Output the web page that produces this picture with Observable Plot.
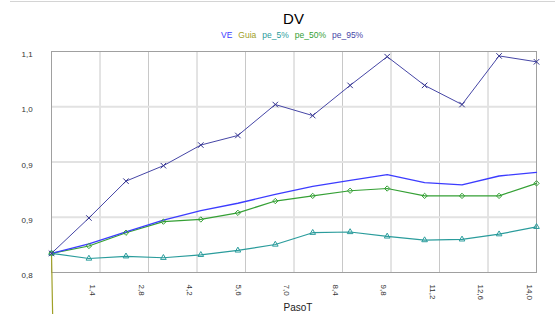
<!DOCTYPE html>
<html>
<head>
<meta charset="utf-8">
<script src="https://cdn.jsdelivr.net/npm/d3@7"></script>
<script src="https://cdn.jsdelivr.net/npm/@observablehq/plot@0.6"></script>
<style>
  html, body { margin: 0; padding: 0; background: white; }
  body { width: 555px; height: 314px; overflow: hidden; font-family: "Liberation Sans", Arial, sans-serif; }
  #hdr { position: relative; height: 44px; }
  #topline { position: absolute; left: 10px; right: 0; top: 1px; height: 1px; background: #d4d4d4; }
  #title { position: absolute; left: 0; width: 587px; top: 11px; line-height: 15px; font-size: 15px; text-align: center; color: #000; }
  #legend { position: absolute; left: 221px; top: 30px; line-height: 10px; font-size: 8.5px; display: flex; gap: 6px; white-space: nowrap; }
</style>
</head>
<body>
<div id="hdr">
  <div id="topline"></div>
  <div id="title">DV</div>
  <div id="legend"></div>
</div>
<div id="chart"></div>
<script>
// ---- data ----
const pasoT = [0, 1.08, 2.15, 3.23, 4.31, 5.38, 6.46, 7.54, 8.62, 9.69, 10.77, 11.85, 12.92, 14];
const ve    = [0.826, 0.839, 0.855, 0.871, 0.884, 0.894, 0.906, 0.917, 0.925, 0.933, 0.922, 0.919, 0.931, 0.936];
const pe5   = [0.826, 0.819, 0.822, 0.820, 0.824, 0.830, 0.838, 0.854, 0.855, 0.849, 0.844, 0.845, 0.852, 0.862];
const pe50  = [0.826, 0.836, 0.854, 0.869, 0.872, 0.881, 0.897, 0.904, 0.911, 0.914, 0.904, 0.904, 0.904, 0.921];
const pe95  = [0.826, 0.874, 0.924, 0.945, 0.973, 0.986, 1.028, 1.013, 1.054, 1.093, 1.054, 1.028, 1.094, 1.086];
const guiaX = [0, 0.05];
const guiaY = [0.826, 0.70];

const xTicks  = [1.4, 2.8, 4.2, 5.6, 7.0, 8.4, 9.8, 11.2, 12.6, 14.0];
const xLabels = ["1,4", "2,8", "4,2", "5,6", "7,0", "8,4", "9,8", "11,2", "12,6", "14,0"];
const yTicks  = [0.8, 0.875, 0.95, 1.025, 1.1];
const yLabels = ["0,8", "0,9", "0,9", "1,0", "1,1"];

const seriesNames  = ["VE", "Guia", "pe_5%", "pe_50%", "pe_95%"];
const seriesColors = ["#3c3cff", "#a0a028", "#2a9c9c", "#35a035", "#4646a6"];

// ---- legend ----
const leg = document.getElementById("legend");
seriesNames.forEach((n, i) => {
  const s = document.createElement("span");
  s.textContent = n;
  s.style.color = seriesColors[i];
  leg.appendChild(s);
});

// ---- tables ----
const rows = (ys) => ys.map((y, i) => ({x: pasoT[i], y}));
const veRows = rows(ve), pe5Rows = rows(pe5), pe50Rows = rows(pe50), pe95Rows = rows(pe95);
const guiaRows = guiaX.map((x, i) => ({x, y: guiaY[i]}));

const chart = Plot.plot({
  width: 555,
  height: 270,
  marginLeft: 51,
  marginRight: 19,
  marginTop: 7,
  marginBottom: 42,
  style: {fontFamily: "'Liberation Sans', Arial, sans-serif", fontSize: "8px", background: "white", color: "#333"},
  x: {domain: [0, 14]},
  y: {domain: [0.8, 1.1]},
  marks: [
    Plot.gridX(xTicks.slice(0, -1), {stroke: "#c8c8c8", strokeOpacity: 1}),
    Plot.gridY(yTicks.slice(1, -1), {stroke: "#e2e2e2", strokeOpacity: 1, strokeWidth: 2}),
    Plot.frame({stroke: "#a0a0a0"}),
    Plot.axisX(xTicks, {
      tickSize: 0, tickRotate: 90, tickPadding: 12, textAnchor: "start", dx: -7,
      tickFormat: d => xLabels[xTicks.indexOf(d)], label: null, fill: "#333"
    }),
    Plot.axisY(yTicks, {
      tickSize: 0, tickPadding: 0, textAnchor: "start", dx: -30, lineAnchor: "top",
      tickFormat: d => yLabels[yTicks.indexOf(d)], label: null, fill: "#333"
    }),
    Plot.text(["PasoT"], {frameAnchor: "bottom", dy: 38, dx: 4, lineAnchor: "bottom", fontSize: 10, fill: "#222"}),
    Plot.line(guiaRows, {x: "x", y: "y", stroke: seriesColors[1], strokeWidth: 1.2}),
    Plot.line(pe5Rows, {x: "x", y: "y", stroke: seriesColors[2], strokeWidth: 1.2}),
    Plot.line(pe50Rows, {x: "x", y: "y", stroke: seriesColors[3], strokeWidth: 1.2}),
    Plot.line(pe95Rows, {x: "x", y: "y", stroke: seriesColors[4], strokeWidth: 1}),
    Plot.line(veRows, {x: "x", y: "y", stroke: seriesColors[0], strokeWidth: 1.3}),
    Plot.dot(pe5Rows, {x: "x", y: "y", symbol: "triangle2", r: 2.7, stroke: seriesColors[2], strokeWidth: 1}),
    Plot.dot(pe50Rows, {x: "x", y: "y", symbol: "diamond2", r: 2.4, stroke: seriesColors[3], strokeWidth: 1}),
    Plot.dot(pe95Rows, {x: "x", y: "y", symbol: "times", r: 2.6, stroke: "#34348e", strokeWidth: 1})
  ]
});
document.getElementById("chart").appendChild(chart);
</script>
</body>
</html>
